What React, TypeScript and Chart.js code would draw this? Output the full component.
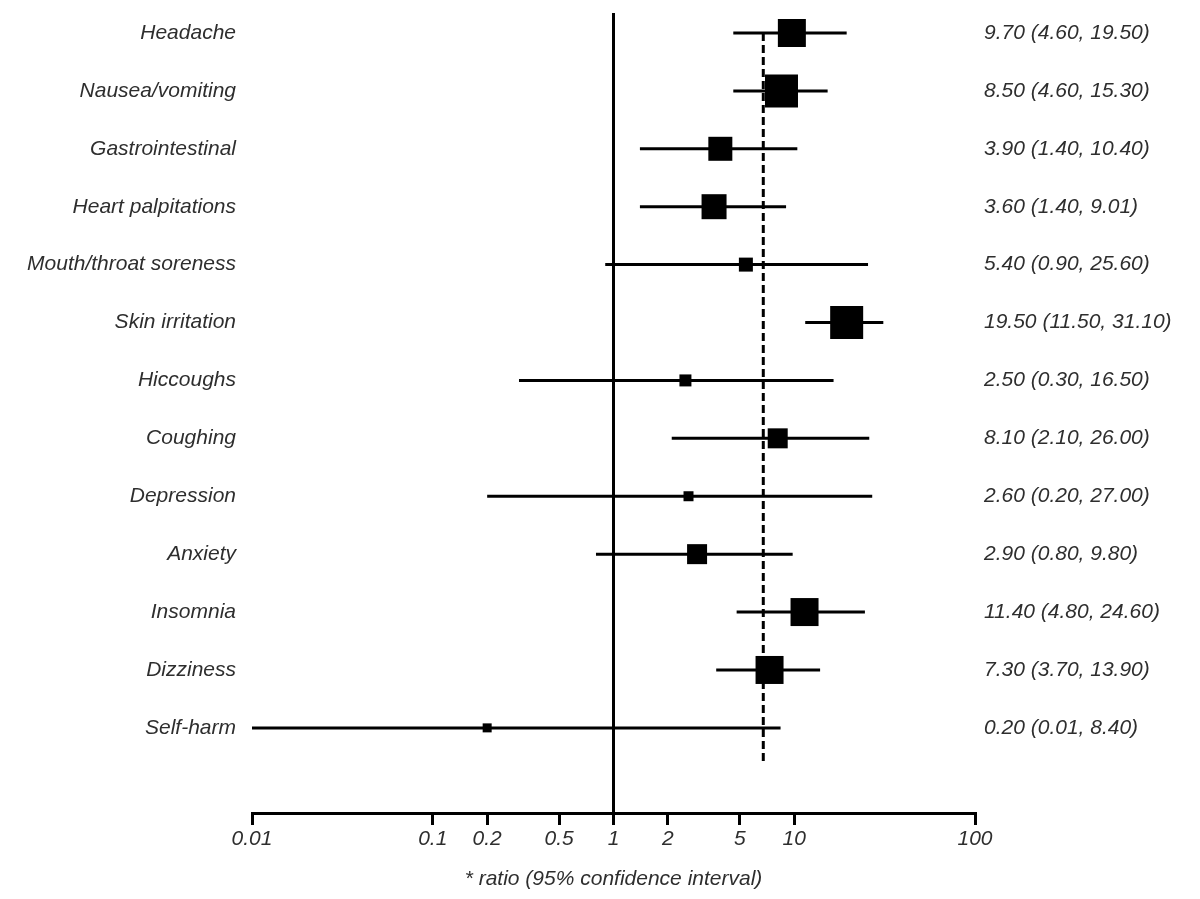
import React, { useEffect, useRef } from "react";
import { Chart, registerables } from "chart.js";

Chart.register(...registerables);

const CATEGORIES = [
  "Headache",
  "Nausea/vomiting",
  "Gastrointestinal",
  "Heart palpitations",
  "Mouth/throat soreness",
  "Skin irritation",
  "Hiccoughs",
  "Coughing",
  "Depression",
  "Anxiety",
  "Insomnia",
  "Dizziness",
  "Self-harm",
];
const ESTIMATES = [9.7, 8.5, 3.9, 3.6, 5.4, 19.5, 2.5, 8.1, 2.6, 2.9, 11.4, 7.3, 0.2];
const LOWER = [4.6, 4.6, 1.4, 1.4, 0.9, 11.5, 0.3, 2.1, 0.2, 0.8, 4.8, 3.7, 0.01];
const UPPER = [19.5, 15.3, 10.4, 9.01, 25.6, 31.1, 16.5, 26.0, 27.0, 9.8, 24.6, 13.9, 8.4];
const WEIGHTS = [28, 33, 24, 25, 14, 33, 12, 20, 10, 20, 28, 28, 9];
const X_TICKS = [0.01, 0.1, 0.2, 0.5, 1, 2, 5, 10, 100];
const X_TICK_LABELS = ["0.01", "0.1", "0.2", "0.5", "1", "2", "5", "10", "100"];
const NULL_VALUE = 1;
const POOLED_VALUE = 6.74;
const POOLED_SPAN = [0, 12.6];
const X_TITLE = "* ratio (95% confidence interval)";

const X_MIN = 0.01;
const X_MAX = 100;
const Y_MIN = -0.345;
const Y_MAX = 13.47;

const TEXT_COLOR = "#2e2e2e";
const FONT_FAMILY = "'Liberation Sans', Arial, sans-serif";
const FONT_SIZE = 21;

const fmt = (v: number) => v.toFixed(2);
const RIGHT_TEXT = ESTIMATES.map(
  (e, i) => `${fmt(e)} (${fmt(LOWER[i])}, ${fmt(UPPER[i])})`
);

export default function App() {
  const canvasRef = useRef<HTMLCanvasElement | null>(null);

  useEffect(() => {
    const canvas = canvasRef.current;
    if (!canvas) return;

    const ciDatasets = CATEGORIES.map((_, i) => ({
      data: [
        { x: LOWER[i], y: i },
        { x: UPPER[i], y: i },
      ],
      showLine: true,
      borderColor: "#000",
      borderWidth: 3,
      pointRadius: 0,
      pointHoverRadius: 0,
      order: 2,
      yAxisID: "y",
    }));

    const rowTicks = (scale: any) => {
      scale.ticks = CATEGORIES.map((_, i) => ({ value: i }));
    };

    const chart = new Chart(canvas, {
      type: "scatter",
      data: {
        datasets: [
          {
            data: ESTIMATES.map((e, i) => ({ x: e, y: i })),
            pointStyle: "rect",
            pointRadius: WEIGHTS.map((w) => w / (2 * Math.SQRT1_2)),
            pointHoverRadius: WEIGHTS.map((w) => w / (2 * Math.SQRT1_2)),
            backgroundColor: "#000",
            borderWidth: 0,
            pointBorderWidth: 0,
            order: 0,
            yAxisID: "y",
          } as any,
          ...ciDatasets,
          {
            data: [
              { x: NULL_VALUE, y: Y_MIN },
              { x: NULL_VALUE, y: Y_MAX },
            ],
            showLine: true,
            borderColor: "#000",
            borderWidth: 3,
            pointRadius: 0,
            order: 3,
            yAxisID: "y",
          },
          {
            data: POOLED_SPAN.map((y) => ({ x: POOLED_VALUE, y })),
            showLine: true,
            borderColor: "#000",
            borderWidth: 3,
            borderDash: [8, 4],
            pointRadius: 0,
            order: 3,
            yAxisID: "y",
          },
        ],
      },
      options: {
        responsive: false,
        animation: false,
        events: [],
        layout: { autoPadding: false, padding: { top: 13, bottom: 0, left: 0, right: 0 } },
        plugins: {
          legend: { display: false },
          tooltip: { enabled: false },
        },
        scales: {
          x: {
            type: "logarithmic",
            position: "bottom",
            min: X_MIN,
            max: X_MAX,
            afterBuildTicks: (scale: any) => {
              scale.ticks = X_TICKS.map((v) => ({ value: v }));
            },
            afterFit: (scale: any) => {
              scale.height = 86;
              scale.paddingLeft = 0;
              scale.paddingRight = 0;
            },
            grid: {
              display: true,
              drawOnChartArea: false,
              drawTicks: true,
              tickLength: 12,
              lineWidth: 3,
              color: "#000",
            },
            border: { display: true, width: 3, color: "#000" },
            ticks: {
              autoSkip: false,
              maxRotation: 0,
              minRotation: 0,
              padding: 2,
              color: TEXT_COLOR,
              font: { family: FONT_FAMILY, size: FONT_SIZE, style: "italic" },
              callback: (_v: any, index: number) => X_TICK_LABELS[index],
            },
            title: {
              display: true,
              text: X_TITLE,
              color: TEXT_COLOR,
              font: { family: FONT_FAMILY, size: FONT_SIZE, style: "italic" },
              padding: { top: 0, bottom: 7 },
            },
          },
          y: {
            type: "linear",
            position: "left",
            reverse: true,
            min: Y_MIN,
            max: Y_MAX,
            afterBuildTicks: rowTicks,
            afterFit: (scale: any) => {
              scale.width = 252;
              scale.paddingTop = 0;
              scale.paddingBottom = 0;
            },
            grid: { display: false, drawTicks: false },
            border: { display: false },
            ticks: {
              padding: 16,
              color: TEXT_COLOR,
              font: { family: FONT_FAMILY, size: FONT_SIZE, style: "italic" },
              callback: (v: any) => CATEGORIES[Math.round(Number(v))] ?? "",
            },
          },
          y2: {
            type: "linear",
            position: "right",
            reverse: true,
            min: Y_MIN,
            max: Y_MAX,
            afterBuildTicks: rowTicks,
            afterFit: (scale: any) => {
              scale.width = 225;
              scale.paddingTop = 0;
              scale.paddingBottom = 0;
            },
            grid: { display: false, drawTicks: false },
            border: { display: false },
            ticks: {
              padding: 9,
              color: TEXT_COLOR,
              font: { family: FONT_FAMILY, size: FONT_SIZE, style: "italic" },
              callback: (v: any) => RIGHT_TEXT[Math.round(Number(v))] ?? "",
            },
          },
        },
      } as any,
    });

    return () => chart.destroy();
  }, []);

  return (
    <div
      style={{
        position: "absolute",
        left: 0,
        top: 0,
        width: 1200,
        height: 899,
        background: "#fff",
      }}
    >
      <canvas ref={canvasRef} width={1200} height={899} />
    </div>
  );
}
